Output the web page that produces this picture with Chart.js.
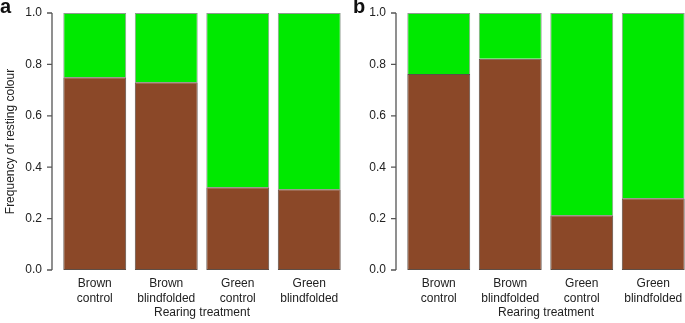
<!DOCTYPE html>
<html>
<head>
<meta charset="utf-8">
<script src="https://cdn.jsdelivr.net/npm/chart.js@4.4.0/dist/chart.umd.min.js"></script>
<style>
  html,body{margin:0;padding:0;background:#fff;overflow:hidden;}
  body{width:685px;height:323px;position:relative;}
  .panel{position:absolute;top:0;height:323px;}
  .tag{position:absolute;top:-4px;font:bold 20px/20px "Liberation Sans",Arial,sans-serif;color:#111;}
</style>
</head>
<body>
<div class="panel" style="left:0;width:345px"><canvas id="chartA"></canvas></div>
<div class="panel" style="left:342px;width:347px"><canvas id="chartB"></canvas></div>
<div class="tag" style="left:0px">a</div>
<div class="tag" style="left:353px">b</div>
<script>
// categories
let treatments=[["Brown","control"],["Brown","blindfolded"],["Green","control"],["Green","blindfolded"]];
let yTicks=[0,0.2,0.4,0.6,0.8,1.0];

// panel a
let brownA=[0.75,0.731,0.322,0.314];
let greenA=[0.25,0.269,0.678,0.686];
// panel b
let brownB=[0.763,0.822,0.213,0.279];
let greenB=[0.237,0.178,0.787,0.721];

const BROWN="#8B4828";
const GREEN="#00E900";
const FONT={family:"'Liberation Sans', Arial, sans-serif",size:12};

// R style y axis, offset to the left of the bars
const offsetAxis={
  id:"offsetAxis",
  afterDraw(chart){
    let ctx=chart.ctx, y=chart.scales.y, x0=chart.chartArea.left-7;
    ctx.save();
    ctx.strokeStyle="#555";
    ctx.lineWidth=1.3;
    ctx.beginPath();
    ctx.moveTo(x0,y.getPixelForValue(0));
    ctx.lineTo(x0,y.getPixelForValue(1));
    yTicks.forEach(v=>{
      let py=y.getPixelForValue(v);
      ctx.moveTo(x0,py);
      ctx.lineTo(x0-5,py);
    });
    ctx.stroke();
    ctx.restore();
  }
};

function makeChart(el,brown,green,yWidth,showTitle){
  return new Chart(document.getElementById(el),{
    type:"bar",
    data:{
      labels:treatments,
      datasets:[{
        label:"Brown",
        data:brown,
        backgroundColor:BROWN,
        borderColor:"#5e4e46",
        borderWidth:1,
        borderSkipped:false,
        categoryPercentage:1,
        barPercentage:0.88
      },{
        label:"Green",
        data:green,
        backgroundColor:GREEN,
        borderColor:"#8f9a8f",
        borderWidth:1,
        borderSkipped:"bottom",
        categoryPercentage:1,
        barPercentage:0.88
      }]
    },
    options:{
      responsive:true,
      maintainAspectRatio:false,
      animation:false,
      layout:{padding:{top:13,right:0,bottom:0,left:0}},
      plugins:{legend:{display:false},tooltip:{enabled:false}},
      scales:{
        x:{
          stacked:true,
          grid:{display:false,drawTicks:false},
          border:{display:false},
          ticks:{color:"#222",font:{...FONT,lineHeight:1.25},padding:6,maxRotation:0,autoSkip:false},
          title:{display:true,text:"Rearing treatment",color:"#222",font:FONT,padding:{top:2,bottom:3}},
          afterFit(s){s.height=53;}
        },
        y:{
          stacked:true,
          min:0,max:1,
          afterBuildTicks(s){s.ticks=yTicks.map(v=>({value:v}));},
          grid:{display:false,drawTicks:false},
          border:{display:false},
          ticks:{color:"#222",font:FONT,padding:17,callback:v=>v.toFixed(1)},
          title:{display:showTitle,text:"Frequency of resting colour",color:"#222",font:FONT,padding:{top:3,bottom:0}},
          afterFit(s){s.width=yWidth;s.paddingTop=0;s.paddingBottom=0;}
        }
      }
    },
    plugins:[offsetAxis]
  });
}

makeChart("chartA",brownA,greenA,59,true);
makeChart("chartB",brownB,greenB,61,false);
</script>
</body>
</html>
